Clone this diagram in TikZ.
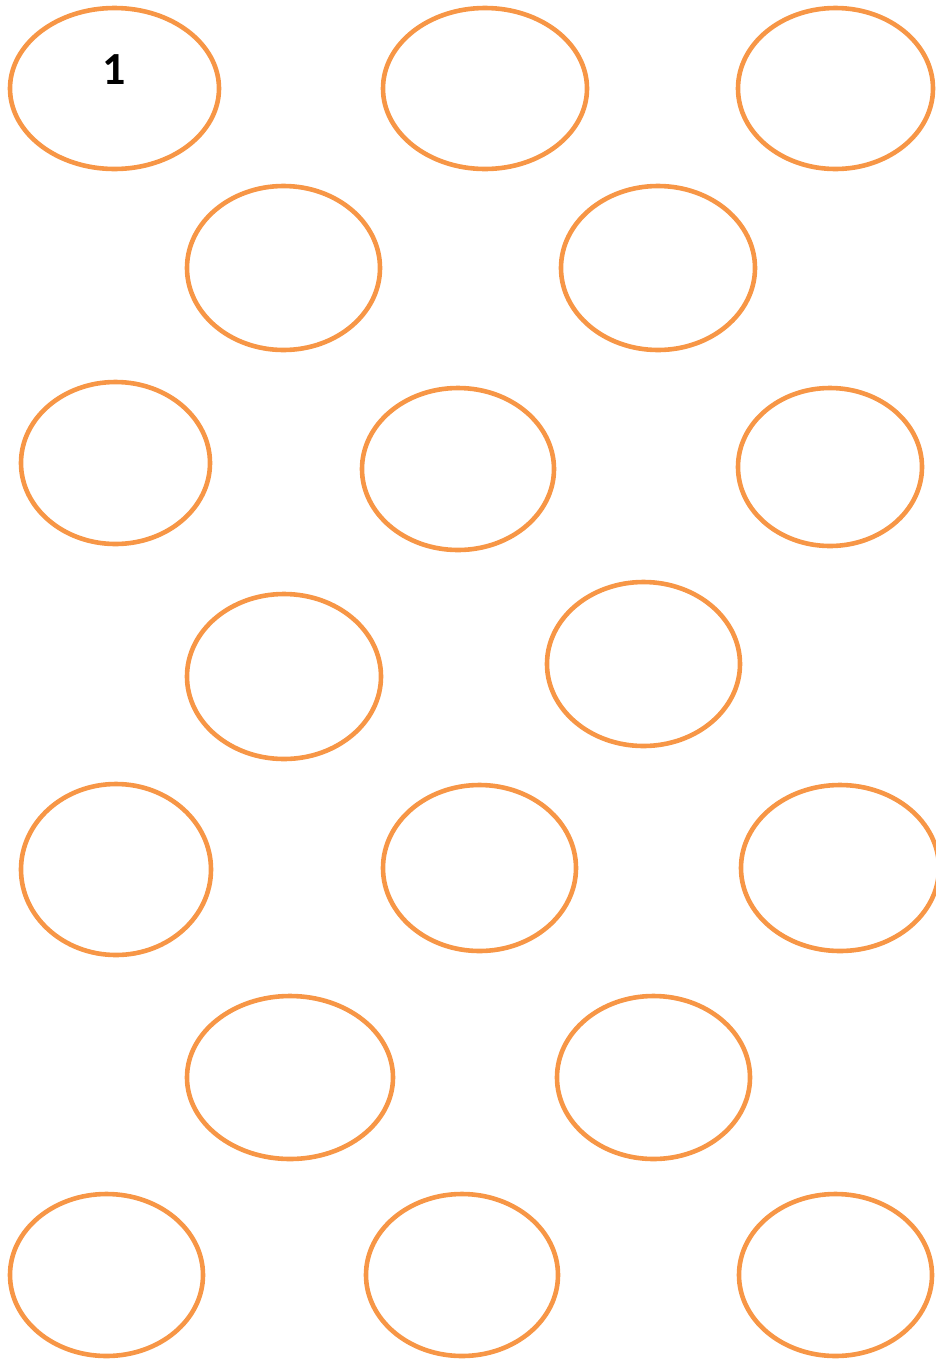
\documentclass[tikz,border=0pt]{standalone}
\usepackage{fontspec}
\setmainfont{Carlito}
\usetikzlibrary{shapes.geometric}
\definecolor{ringorange}{HTML}{F79646}
\tikzset{
  ring/.style n args={2}{ellipse, draw=ringorange, line width=4.6pt, inner sep=0pt, outer sep=0pt,
    minimum width=#1pt, minimum height=#2pt},
  numlabel/.style={font=\bfseries\fontsize{46}{46}\selectfont, text=black, inner sep=0pt}
}
\begin{document}
\begin{tikzpicture}[x=1pt,y=-1pt]
\useasboundingbox (0,0) rectangle (936,1361);
\clip (0,0) rectangle (936,1361);
% row 1
\node[ring={209}{161}] (e1) at (114.5,88.5) {};
\node[ring={204}{161}] (e2) at (485,88.5) {};
\node[ring={195}{161}] (e3) at (835.5,88.5) {};
% row 2
\node[ring={193}{164}] (e4) at (283.5,268) {};
\node[ring={194}{164}] (e5) at (658,268) {};
% row 3
\node[ring={189}{162}] (e6) at (115.5,463) {};
\node[ring={192}{162}] (e7) at (458,469) {};
\node[ring={184}{158}] (e8) at (830,467) {};
% row 4
\node[ring={194}{165}] (e9) at (284,676.5) {};
\node[ring={193}{164}] (e10) at (643.5,664) {};
% row 5
\node[ring={190}{171}] (e11) at (116,869.5) {};
\node[ring={193}{166}] (e12) at (479.5,868) {};
\node[ring={198}{166}] (e13) at (840,868) {};
% row 6
\node[ring={206}{163}] (e14) at (290,1077.5) {};
\node[ring={193}{163}] (e15) at (653.5,1077.5) {};
% row 7
\node[ring={193}{162}] (e16) at (106.5,1275) {};
\node[ring={192}{162}] (e17) at (462,1275) {};
\node[ring={193}{162}] (e18) at (835.5,1275) {};
% label
\node[numlabel] (n1) at (114,70) {1};
\end{tikzpicture}
\end{document}
